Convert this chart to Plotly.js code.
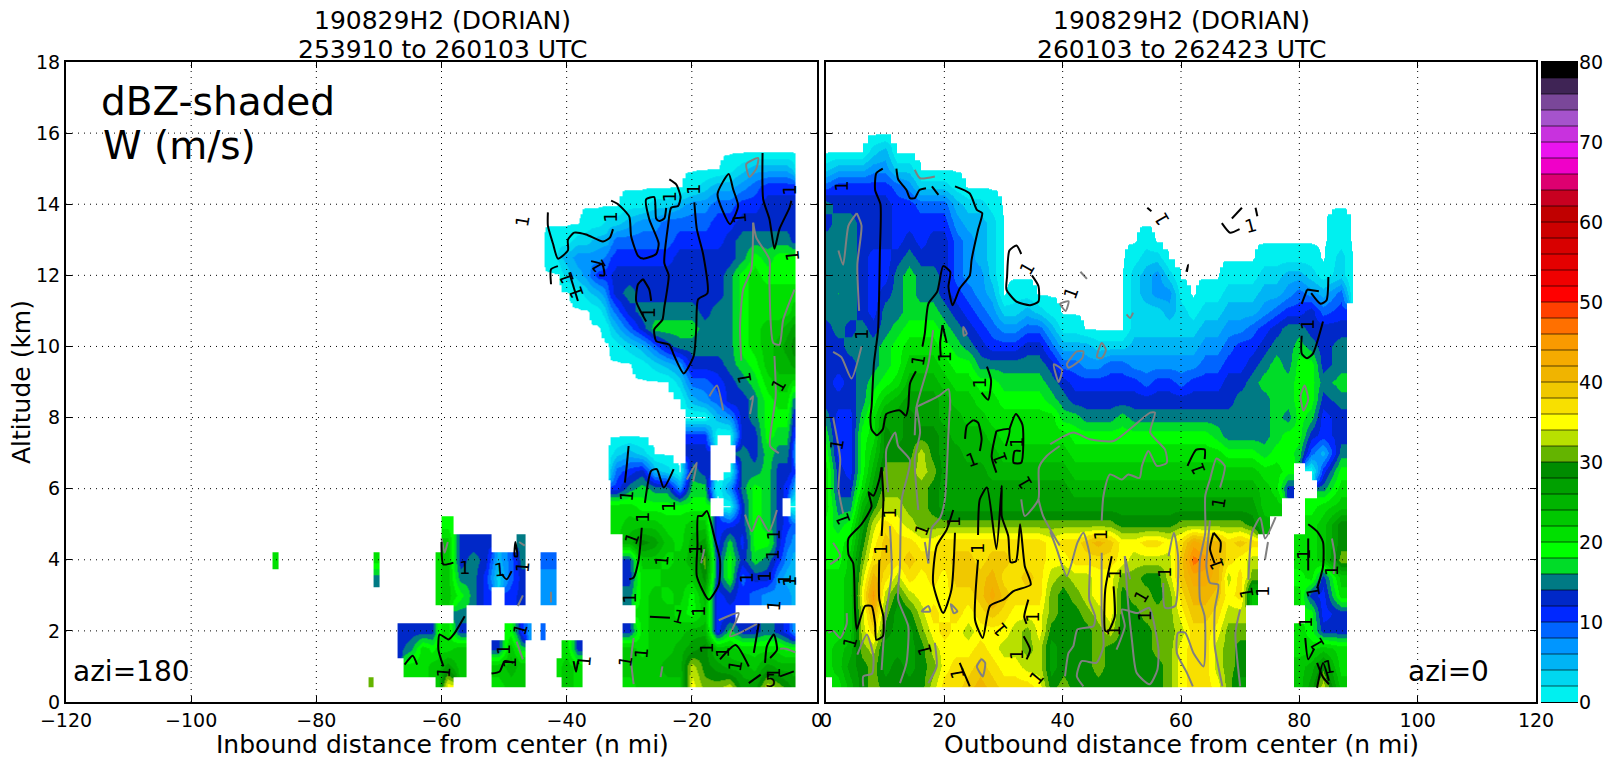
<!DOCTYPE html>
<html><head><meta charset="utf-8"><script src="https://cdn.plot.ly/plotly-3.0.1.min.js"></script>
<style>html,body{margin:0;padding:0;background:#fff}</style></head><body><div id="g" style="width:1615px;height:762px"></div>
<script>
const o = null;
// altitude rows of every column, km
const altitudes = [.45,1,1.5,2,2.5,3,3.5,4,4.5,5,5.5,6,6.5,7,7.5,8,8.5,9,9.5,10,10.5,11,11.5,12,12.5,13,13.5,14,14.5,15,15.5,16];
const bandColors = ['#00f0f0','#00d7f0','#00b4f5','#0096ff','#0064ff','#0028ff','#0028c8','#007a84','#00dc28','#00ff00','#00e000','#00c800','#00b400','#00a000','#008c00','#64b400','#b8e000','#ffff00','#f8e000','#f0c800','#f0b400','#f5ab00','#fa9a00','#ff7000','#ff4000','#ff0000','#f00000','#e40000','#d80000','#cc0000','#c00000','#c80020','#dd0070','#f000c8','#ea14ef','#c832de','#a653cc','#7a4799','#3f2455','#000000'];
const xTicksLeft = [-120,-100,-80,-60,-40,-20,0];
const xTicksRight = [0,20,40,60,80,100,120];
const yTicks = [0,2,4,6,8,10,12,14,16,18];
const barTicks = [0,10,20,30,40,50,60,70,80];

// dBZ, left panel (inbound): cell edges in distance, one list per cell, low altitude first
const leftEdges = [-87,-86,-71.6,-70.9,-69.9,-67,-66,-64,-62,-61,-60,-58,-56,-54,-52,-50,-48,-46.6,-45.6,-44.1,-43.3,-41.6,-40.8,-39,-37.5,-36,-34,-33,-31,-29,-27,-25,-23,-21,-19,-17,-15,-13,-11,-9,-7,-5.5,-4.25,-3.5,-3.4];
const leftDbz = [
[o,o,o,o,o,o,o,21],
[],
[31],
[o,o,o,o,o,o,15,21],
[],
[o,o,13,13],
[o,21,15,13],
[o,21,21,13],
[o,23,19,13],
[23,23,21,19,o,21,21,21],
[35,27,21,21,o,23,23,23,23,19],
[o,23,23,13,15,19,15,13,13],
[o,o,o,o,o,15,15,15,13],
[o,o,o,o,o,11,11,13,13],
[21,23,13,o,o,o,3,5],
[23,25,23,19,o,11,9,9],
[23,23,17,11,o,13,13,15,15],
[o,o,o,7],
[],
[o,o,o,9,o,7,7,9],
[o,o,o,o,o,7,7,9,o,o,o,o,o,o,o,o,o,o,o,o,o,o,o,o,1,1],
[o,21,o,o,o,o,o,o,o,o,o,o,o,o,o,o,o,o,o,o,o,o,o,o,3,1],
[23,23,21,o,o,o,o,o,o,o,o,o,o,o,o,o,o,o,o,o,o,o,o,3,5,1],
[21,21,13,o,o,o,o,o,o,o,o,o,o,o,o,o,o,o,o,o,o,o,1,5,7,3],
[o,o,o,o,o,o,o,o,o,o,o,o,o,o,o,o,o,o,o,o,o,o,3,7,7,3,1],
[o,o,o,o,o,o,o,o,o,o,o,o,o,o,o,o,o,o,o,o,o,1,5,11,7,5,1],
[o,o,o,o,o,o,o,o,o,o,o,o,o,o,o,o,o,o,o,o,1,5,9,11,9,5,3],
[o,o,o,o,o,o,o,o,o,21,21,11,9,3,o,o,o,o,o,1,5,9,13,13,11,9,3],
[21,23,23,13,o,15,13,13,25,23,21,15,11,5,o,o,o,o,o,3,9,13,15,13,11,9,5,1],
[23,23,21,21,21,21,21,23,29,23,19,17,13,3,o,o,o,o,1,5,13,15,13,13,11,9,7,1],
[23,23,23,23,23,23,21,23,27,23,19,15,5,o,o,o,o,o,3,9,17,15,13,13,11,9,7,3],
[23,25,23,23,23,21,23,21,23,21,19,15,3,o,o,o,o,o,5,13,17,15,13,13,11,9,9,3],
[23,25,25,23,21,23,23,23,21,21,19,7,o,o,o,o,o,3,7,15,17,15,13,13,13,11,9,5],
[35,33,27,25,19,19,23,25,25,23,19,17,15,13,11,o,5,9,13,15,17,15,13,13,13,11,9,7,1],
[31,29,29,25,23,25,29,31,27,23,19,17,13,13,11,o,7,9,13,15,15,13,13,13,13,11,9,7,3],
[31,27,23,11,11,11,13,13,11,11,o,o,o,o,o,5,9,11,13,15,15,15,13,13,13,11,11,9,5],
[33,25,23,17,11,13,19,19,17,11,o,7,o,o,o,7,13,13,15,15,15,15,15,15,13,13,11,9,5,1],
[27,25,21,13,o,11,9,13,11,13,13,15,15,15,13,13,13,15,17,19,19,19,19,19,15,15,13,11,7,3],
[27,23,21,13,o,9,13,17,19,19,19,19,15,13,13,15,15,17,19,21,21,21,21,21,19,15,13,11,9,5],
[33,27,21,15,o,7,13,15,19,17,17,17,17,17,19,19,19,21,23,23,23,21,21,19,17,15,13,13,11,5],
[31,25,21,13,o,7,7,11,13,13,13,13,13,15,17,19,21,23,25,25,23,21,21,19,19,15,13,13,11,5],
[29,25,19,11,o,7,5,7,9,11,o,11,13,15,17,19,21,23,25,27,25,21,21,19,19,15,13,13,11,5],
[27,25,19,7,o,5,5,5,7,9,o,7,11,9,11,13,15,21,27,29,27,23,21,19,19,13,13,13,11,3],
[]
];

// dBZ, right panel (outbound)
const rightDist = [0,2,4,6,8,10,12,14,16,18,20,22,24,26,28,30,32,34,36,38,40,42,44,46,48,50,52,54,56,58,60,62,64,66,68,70,72,74,76,78,80,82,84,87,89];
const rightDbz = [
[o,21,21,21,21,21,21,19,19,19,21,21,21,19,17,15,13,13,13,13,13,15,15,15,15,15,13,15,9,3],
[21,23,23,21,21,21,21,19,19,17,15,13,13,11,11,11,13,11,13,13,15,15,16,15,15,15,15,13,11,5],
[25,27,25,23,23,23,23,23,21,19,15,13,11,11,11,11,13,13,13,15,13,15,15,15,15,15,15,13,11,5],
[29,29,31,33,33,35,33,31,29,27,25,21,19,19,19,17,15,15,15,15,15,13,13,13,13,13,13,13,11,5],
[31,31,33,37,41,45,41,37,35,33,29,27,25,23,21,21,19,17,15,15,13,11,11,11,11,13,13,13,11,7,3],
[29,27,27,29,31,33,37,39,39,37,33,31,31,29,29,27,23,19,17,17,15,15,13,11,11,13,13,13,11,7,5],
[29,29,27,27,27,29,33,37,37,35,33,31,31,29,27,27,25,21,19,19,17,15,15,15,13,11,11,11,9,3],
[29,27,27,27,29,33,37,39,37,33,31,31,31,29,29,29,27,25,23,21,19,17,17,17,15,13,11,11,7,3],
[29,29,29,31,33,35,35,37,35,31,31,31,33,33,29,27,27,25,23,21,19,17,15,15,13,11,11,9,3],
[33,31,33,35,37,35,37,37,35,31,29,29,31,29,29,27,27,25,23,21,19,17,15,15,13,13,11,9,3],
[37,35,35,37,35,35,35,37,37,31,27,27,27,27,27,25,25,23,21,19,17,15,13,13,13,13,11,9,3],
[37,37,35,35,37,37,39,39,37,31,27,27,27,27,25,25,23,21,19,17,15,13,11,9,9,9,7,5,1],
[39,37,35,33,35,37,39,39,37,31,27,27,27,25,25,23,23,21,19,15,13,11,9,7,7,7,5,3],
[41,39,37,35,37,39,39,37,37,31,27,27,27,25,25,23,21,19,15,13,11,9,7,7,5,5,5,3],
[39,37,35,35,39,43,41,39,37,31,27,27,25,25,23,21,21,19,15,11,9,7,5,3,3,3,3,1],
[37,35,33,35,37,39,37,39,37,31,27,27,25,23,21,21,19,17,15,11,7,3],
[37,35,33,33,35,37,37,37,37,31,27,27,25,23,21,21,19,17,15,11,7,3,1],
[37,33,31,31,35,37,39,37,37,31,27,27,25,23,21,21,19,17,15,13,9,5,1],
[35,33,33,35,35,37,37,37,37,31,27,27,25,23,21,21,19,17,15,13,9,3],
[29,27,27,29,31,31,33,35,35,31,27,27,25,23,21,21,17,15,13,9,5,1],
[31,29,29,29,29,29,31,35,37,31,27,27,25,23,21,17,15,13,9,5,1],
[29,29,29,29,29,31,33,37,37,31,27,25,23,21,19,17,13,11,9,5,1],
[29,29,29,29,31,33,33,37,39,31,27,25,23,21,19,15,13,11,7,5],
[29,31,31,31,33,35,35,37,41,31,27,25,23,21,19,15,13,11,7,3],
[29,29,29,33,35,35,35,37,39,31,27,25,23,21,19,15,13,11,9,3],
[29,29,29,29,29,29,31,35,35,29,27,25,23,21,19,17,13,11,9,3],
[29,29,29,29,29,31,31,33,35,29,27,25,23,21,19,15,13,11,7,5,3,3,3,3,1],
[29,29,29,29,31,31,29,33,37,29,27,25,23,21,19,15,13,9,7,5,3,3,5,5,3,1],
[29,29,31,31,31,29,29,33,37,29,27,25,23,21,19,15,13,11,7,5,3,3,7,7,3],
[31,31,31,31,31,31,33,33,35,29,27,25,23,21,19,15,13,11,7,5,3,5,7,3],
[35,35,35,33,35,37,39,39,37,31,27,25,23,21,19,15,13,9,7,5,3,3,1],
[37,37,37,37,39,41,43,47,43,31,27,25,23,21,19,15,13,11,7,5,3,1],
[37,37,37,37,39,41,43,45,41,31,27,25,23,21,19,15,13,11,9,7,5,3,1],
[35,33,33,35,37,39,41,41,41,31,27,25,23,21,17,15,13,11,9,7,5,3,1],
[31,31,31,31,33,35,33,37,37,31,27,25,23,19,15,15,13,13,11,9,7,5,3,1],
[27,29,29,31,33,37,37,35,39,31,27,25,23,19,15,15,15,13,11,11,7,5,3,1],
[o,o,o,o,o,23,31,33,37,29,27,25,23,19,15,15,15,15,13,11,9,5,3,1],
[o,o,o,o,o,o,o,o,o,25,23,23,21,17,15,15,15,17,15,13,11,7,5,3,1],
[o,o,o,o,o,o,o,o,o,o,23,21,21,19,17,17,17,17,17,15,13,9,5,3,1],
[o,o,o,o,o,o,o,o,o,o,o,13,19,19,19,15,17,17,15,15,15,11,7,5,1],
[23,23,21,21,o,21,19,21,21,o,o,o,o,17,19,19,19,19,19,17,15,11,9,5,1],
[27,25,21,19,19,13,21,21,21,21,19,o,o,9,13,17,19,19,19,15,13,13,7,3,1],
[33,29,23,13,11,11,13,23,23,23,21,15,11,5,11,11,13,15,13,13,13,9,5,1],
[23,21,21,13,13,21,23,31,29,29,23,21,19,15,13,13,15,17,15,15,13,11,9,3,3,1,1],
[]
];

// W contours, [distance, altitude, distance, altitude, ...]
const leftBlack = [
[-43,13.77,-43,13.4,-42.2,12.9,-41.4,12.47,-39.8,12.7,-39.8,13,-38.8,13.2,-36.9,13.15,-34.2,12.95,-33.1,13.06,-32.6,13.3],
[-32.9,14.1,-31.8,14,-30,13.65,-29.7,13.1,-28.6,12.55,-27.8,12.47,-25.7,12.6,-25.3,12.9,-26.8,13.58,-27.3,14.14,-26,14.2,-25.7,13.6,-25.2,13.53,-24.4,13.6,-24.1,13.9],
[-23.6,14.7,-22.5,14.56,-21.8,14.2,-22.2,13.95,-23.3,13.9,-23.8,13.4,-24.4,12.35,-23.7,12,-24.4,11.1,-24.7,10.75,-26,10.48,-25.7,10.15,-23.6,10.05,-22.8,9.73,-21.3,9.24,-19.7,9.73,-19.3,10.48,-19,11.32,-17.5,11.5,-18.2,12.6,-19.2,13.3,-19.6,14.05],
[-14.1,14.85,-15.9,14.28,-13.9,13.44,-12.6,13.95,-13.4,14.42,-14.1,14.85],
[-8.7,15.44,-8.6,14.14,-7.6,13.58,-6.8,12.75,-6,13.3,-4.4,13.9,-4.1,14.1],
[-27.8,11.9,-28.6,11.75,-28.9,11.28,-27.3,10.7],[-26.5,11.28,-26.8,11.6,-27.8,11.9],
[-41.4,12.26,-42.5,12.17,-42.5,11.75],[-39.6,12.08,-38.2,11.28],[-36.1,12.4,-34.3,12.3,-34,12,-34.8,12],
[-30.1,7.2,-30.4,6.64,-30.7,6.17],[-27.5,5.6,-26.5,6.5,-25.6,6.55,-24.5,6.03,-22.9,6.55],[-28,4.9,-28.5,4,-29.3,3.5,-30,3.45],
[-18.4,5.23,-19,5.23,-19.1,4.4,-19.2,3.54,-17.3,2.88,-15.7,3.3,-15.5,4,-16.3,4.57,-17.6,5.37,-18.4,5.23],
[-60,4.5,-59.7,3.87,-58.1,3.92],[-26.7,2.4,-23.5,2.37],
[-56.3,2.41,-57.9,1.94,-58.9,1.76,-60.3,1.9,-60.5,1.47,-59.7,1],[-65.9,1.05,-64.6,1.3,-63.9,1.05],
[-10.1,1.38,-9.3,2.2],[-15.5,1.2,-13,1.6,-10.9,1],[-8.3,1.1,-8,1.57,-6.9,1.9,-6.4,1.47,-7.5,1.24],[-5.9,.72,-3.7,.86],[-10.9,.53,-9,.77],
[-52,.8,-50.7,.86,-49.9,1.15,-48.5,1.1],[-50.4,3.6,-49.6,3.45,-48.8,3.68],[-48.2,4.5,-47.9,4.1,-48.3,4.1,-48.2,4.5],[-38.9,1.15,-38.5,.85,-38.2,1.15]
];
const leftGray = [
[-10.2,13.48,-10.5,12.17,-11.8,11.6,-12.3,10.57,-12.1,9.6],[-10.2,13.48,-9.7,13.06,-7.6,12.45,-7.6,11.8,-7,10.1,-6,10.05,-5.4,10.75,-3.6,11.6],
[-11.3,15.13,-10.8,14.77,-9.7,15,-9.4,15.3,-11.3,15.13],[-6.8,9.73,-6.6,8.6,-7.5,7.2,-6.1,7],[-10.7,8.1,-10.2,8.6,-10.7,8.5],[-17.2,8.6,-16,8.9,-15,8.2],
[-20.8,6.26,-19.2,6.73,-19.8,6.2],[-11.5,5.27,-10.4,4.8,-9.3,5.23,-7.7,4.8,-6.4,5.4],[-29.3,1.8,-29.7,1.2,-29.3,.5],[-15.7,2.3,-12.5,2.5,-13.9,1.85,-9.6,2.2],
[-5.9,1.5,-5,1.5,-3.5,1.4],[-60,4.6,-59.5,4.2,-59,4.5],[-47.6,4.5,-46.7,4.4],[-47,3,-47.8,2.7],[-42.5,3.1,-42.5,2.8],[-48,1.7,-47,1.2],[-25,.7,-24.7,1],[-18,4.3,-18.5,3.9]
];
const rightBlack = [
[9.6,15,8.5,14.87,8.3,14.4,9.2,14,9.1,12.6,9,11.6,8.8,10.46,8.1,9.52,7.7,8.3,7.5,8,7.7,7.67,8.6,7.5,9.6,7.67,10.2,8.1,12.5,8.2,13.5,8.05,13.9,8.3,14.2,8.96,15.2,9.3],
[11.9,15,12.2,14.7,13.6,14.4,14.2,14.17,15,14.17,15.8,14.4,16.9,14.45],[17.9,14.5,19,14.26],
[21.8,14.5,24.3,14.3,25.5,13.84,26.4,13.75,25.7,13.28,24.6,12.43,24.3,12,22.6,11.63,21.4,11.16,20.7,11.68,21,12.1,19.8,12.26,18.8,11.54,17.3,11.2,16.7,10.37,16.3,10],
[19.7,10.6,19.3,10.1,19.4,9.7],[19.7,10.6,20.4,10.1],
[33,12.6,32.2,12.84,31,12.7,30.6,11.96,30.5,11.6,32.2,11.26,34.5,11.16,35.9,11.26,35.9,11.7,34.8,12],
[27.2,9.43,27.9,9.05,27.4,8.5,26.3,8.7],
[9.4,6.6,9,6.25,8,5.8,7.2,5.9,7.7,5.5,6,5,3.8,4.6,3.8,4.15,4.6,3.9,4.9,2.6,5.2,2.05,6.6,2.7,7.7,2.7,8.3,2.2,8.5,1.75,9.6,1.85,9.7,2.4,9,2.9,9,4],[9.4,6.6,9.7,5.7,9.4,4.67],
[24.9,7.93,23.8,7.77,23.5,7.4],[24.9,7.93,25.7,7.86,26.3,7.4,26,7.06],
[28.8,7.62,31,7.67,30.4,7.2],[28.8,7.62,28,6.9,28.8,6.45],[31,7.67,32.1,8.1,33.2,7.8,33,6.73,31.7,6.73,31.9,7.06,32.9,7.06],
[21.5,5.4,20.4,4.85,18.7,4.38,18.1,3.35,19.8,2.5,21.2,3.16,21.8,4.76],
[25.7,4.7,26,5.7,27.2,6.03,28.8,4.3,29.7,6.08,29.7,5.23,30.8,4.67,31.2,3.93,32.1,3.96,32.8,5,33.6,3.82,34.6,3.3,31.7,3.12,30,2.88,27.7,2.7,26.5,1.8,25.2,2.3,25.7,4],
[34.2,2.88,33.5,2.4,33.9,2.2],[33.4,1.85,34.5,1.47,33.9,1.2],[22.6,1.1,24.3,.44],
[61.1,6.64,62.6,7.1,64,7.1,64,6.83],[65.5,4.76,64.9,4.3,65.7,3.9],[65.5,4.76,66.7,4.5,66.6,4.2],
[48.3,4.1,47.2,3.16,47.2,2,47.7,1.99,48.8,2.4,48.6,3.25],
[81.3,11.6,80.4,11.2],[81.3,11.6,83.3,11.55],[80.4,10.3,80.4,9.8,81.3,9.67,82.3,9.8,84,10.7],[84.9,11.95,84.6,11.3,83.6,11.2,82,11.5],
[66.9,13.47,68.3,13.2,69.9,13.3],[68.6,13.6,70.3,13.9],[72.6,13.9,72.9,13.66],[54.3,13.9,55,13.8],[60.9,12.1,61.2,12.3,61,12.1],
[81.5,5,83,4.8,84,4.5,84,3.8,83,3.2],[81.5,3.7,81.5,4.6],[81,1.8,81.5,1.2,82.5,1.5],[83,.4,84,1.1,85,.6],[83,1.1,84,.7,85,.5]
];
const rightGray = [
[5.2,13.75,3.8,13.4,2.9,12.3,2.1,12.7],[5.2,13.75,6,13.4,5.3,12.3,5.6,11],[1.2,9.85,2.6,9.7,4.3,9.1,6,10],
[18.1,10.46,17.3,9.5,15.3,8.3,15,7.5],[15.3,8.3,19,8.6,20.7,8.8,21,8.2],[15,14.97,15.9,14.73,18.4,14.78],[23.2,10.55,23.3,10.3,23.8,10.36,23.2,10.55],
[38.5,9.5,39.9,9.34,39.3,9,38.5,9.5],[40.7,9.5,42.4,9.86,43.5,9.86,43.3,9.67,41,9.4,40.7,9.5],[45.8,9.7,46.6,10.1,47.3,9.9,46.6,9.67,45.8,9.7],[39.6,11.2,41,11.27,40.5,11,39.6,11.2],
[1.2,8,2.4,6.83,2.1,6,2.9,5.3],[1.2,4.48,2.4,4.1,.7,3.87],[.4,1.94,1.2,2,2.4,1.8,3.5,2.2,3.5,2.5],[5.3,1.33,6.9,1.9,8,1.3,7.8,.8,6.3,.72,6.3,.44],
[10.5,5.9,10.2,7.1,11.7,7.58,12.2,7.2,14.2,6.8,12.8,5.7,12.5,3.82,12.2,2.88,13.9,2.13,13.6,1.1,12.5,.53],[10.8,4.95,11.1,3.63,10,2.3,9.4,.9],
[15.3,8.3,15.9,7.58,15,6.83,15.6,5.4],[21,8.5,20.7,7.58,20.1,5.7,19.3,5.18,17.9,4.9,17.3,3.9],[16.7,4.5,17.3,3.9],[18.4,1.66,18.7,1,17.3,.53],
[26.3,1.2,25.5,1,26.5,.72,26.9,1.1,26.3,1.2],[39.5,7.2,37.3,6.92,36,6.6,35.9,5.7,33.6,5.23,33,5.7],[35.9,5.7,36.7,5.23,39.5,4.4],
[16.2,2.55,17.3,2.7,17.6,2.55,16.2,2.55],[21.1,2.75,22.2,2.55,21.6,2.5,21.1,2.75],
[37.9,7.25,41.8,7.58,44.6,7.39,48.6,7.34,54.8,8.14,55.6,8.14,54.8,7.58,57.3,7.1,57.6,6.73,55.9,6.64,54.5,7.06,53.4,6.64,53,6.3,51.1,6.4,50,6.26,48,6.4,46.9,5.8,46.6,5.1],
[66.6,6.03,67.4,6.64,66,6.85,64.9,6.26,64.1,5.8,64.1,4.76,63.2,4,63.2,2.88,64,2.4,63.8,1,62.1,1.38,60.7,1.95,59.5,1.95,59.3,1.38,61,.82,62,.44],
[64.9,5.1,64.3,3.8,64.9,3.35,66.3,3.3,65.7,2.6,65.7,1.57,67,.44],[71.4,3.44,72,4.76,73.4,5.18,74.2,4.6,76,5.2],[70,2.6,69.2,1.94,70,.44],
[37.9,4.8,39,4.3,40.7,3.54,42.5,4.48,43.5,4.76,44.6,4.1,44.5,2.88,45.5,2.4,45.2,2.13,42.5,2.04,41.8,1.57,41,1.38,40.4,.72],
[46.6,4.2,46.6,2.4,46.9,1.57,45.7,1.1,43.2,1.15,42.4,.72,43.5,.44],[50.5,4.1,51.4,3.45],
[50.5,4.1,51.1,2.7,51.7,1.75,52.5,.82,54.7,.5,56,.9,56.2,1.47,55.2,2.4,54.6,2.65,52.6,2.5,50,2.6,50.5,2.13,49.1,1.47],
[57.9,4.1,58.8,4.76,59.5,4.1,59,2.7,57.3,2.65,57,3.35],[43,12.1,44.1,11.9],[50.8,10.9,51.4,10.8,51.9,10.95],[80.7,8.2,80.2,8.6,80.9,8.9,81.5,8.5,80.7,8.2],[74.7,4.5,74.2,4],[85.5,4.6,86,4.1,85.8,3.6]
];

// contour labels, [distance, altitude, rotation]
const leftLabels = [
[-47,13.53,-80],[-32.9,13.62,-90],[-40,11.93,-110],[-38.5,11.5,-110],[-35,12.26,-120],[-23.6,14.2,-90],[-19.8,14.4,-90],[-12.4,13.6,-95],[-4.3,14.38,-90],[-3.9,12.55,-95],[-27,10.93,-90],[-11.6,9.1,-100],[-6.2,8.9,-60],
[-56.3,3.78,0],[-50.7,3.73,-5],[-47,3.8,-85],[-30.4,5.8,-85],[-23.7,5.5,-90],[-28,5.2,-90],[-29.6,4.6,-70],[-24.8,3.98,-85],[-19.5,4.3,-90],[-29.9,2.93,-90],[-22.1,2.4,15],[-18.9,2.55,-90],
[-47.5,2.05,-75],[-50.1,1.47,-90],[-49,1.1,-90],[-37.3,1.15,-85],[-28,1.38,-85],[-30.7,1.15,-80],[-17.6,1.52,-90],[-15,1.38,-90],[-13.1,1,-80],[-59.7,.83,-85],
[-7,4.69,-90],[-7.2,4.15,-90],[-11.2,3.5,-90],[-8.5,3.54,-90],[-5.3,3.45,-90],[-4.5,3.4,-90],[-7,2.7,-85],[-7,.8,-90]
];
const rightLabels = [
[2.6,14.5,-90],[5.9,10.35,-90],[15.6,9.6,-80],[20,9.7,-90],[26,8.98,-90],[33.9,12.2,-60],[1.9,7.23,-80],[2.9,5.13,-110],[4.1,1.66,-75],[10.7,5.3,-90],[9.1,4.3,-90],[16.2,4.85,-70],[21.5,5.06,-90],[25.5,4.33,-90],
[24.6,6.83,-20],[29.4,6.87,-110],[32.2,7.3,-90],[33.6,6.17,-120],[16.7,1.47,-105],[29.4,2.04,-130],[35,2.37,-90],[32.2,1.33,-90],[22.2,.8,-100],[35.6,.68,-50],
[46.4,4.7,-90],[48.6,3.6,-90],[57.3,3.63,-90],[53.2,2.98,-60],[53.9,2.43,-90],[48.6,2,-90],[62.9,6.54,-110],[66.3,5.59,-80],[66,3.87,-110],[71.1,3.07,-100],[73.9,3.1,-90],
[80.7,4.15,-90],[81,2.23,-90],[82.4,3.1,-100],[83,1.6,-120],[41.3,11.5,-70],[56.8,13.57,-120],[71.7,13.4,-15],[81.3,10.6,-90],[85.5,3.7,-90],[85,1,-10]
];

const W=1615,H=762, T=62,B=702;
const dom=(a,b)=>[a/W,b/W];
const ZMIN=-4, ZSPAN=84, NO_ECHO=-0.2;
const colorscale=[[0,'#ffffff'],[4/ZSPAN,'#ffffff']];
bandColors.forEach((c,i)=>{colorscale.push([(4+i*2)/ZSPAN,c]);colorscale.push([(4+(i+1)*2)/ZSPAN,c]);});
const yNodes=[.41].concat(altitudes);
// Columns padded to full height, then the weak anvil fringe is allowed to fade to "no echo" next to its empty cells
function grid(cols){
  const z=cols.map(c=>altitudes.map((_,i)=>c[i]===undefined?null:c[i]));
  const weak=(j,i)=>z[j]&&z[j][i]!==undefined&&z[j][i]!==null&&z[j][i]<=9;
  const out=z.map((c,j)=>c.map((v,i)=>{
    if(v===null&&i>=10&&(weak(j,i-1)||weak(j,i+1)||weak(j-1,i)||weak(j+1,i))) return NO_ECHO;
    return v;
  }));
  return out.map(c=>[null].concat(c));
}
const heat=(x,z,xa,ya)=>({type:'heatmap',x:x,y:yNodes,z:grid(z),transpose:true,zsmooth:'best',zmin:ZMIN,zmax:80,colorscale,showscale:false,hoverinfo:'skip',xaxis:xa,yaxis:ya});
function lines(paths,color,xa,ya){
  const xs=[],ys=[];
  paths.forEach(p=>{for(let i=0;i<p.length;i+=2){xs.push(p[i]);ys.push(p[i+1]);}xs.push(null);ys.push(null);});
  return {type:'scatter',mode:'lines',x:xs,y:ys,line:{color,width:2,shape:'spline',smoothing:.6},hoverinfo:'skip',xaxis:xa,yaxis:ya,showlegend:false};
}
// colour bar from the band list
const barLevels=bandColors.map((c,i)=>i*2+1);
const barTrace={type:'heatmap',x:[0,1],y:barLevels,z:barLevels.map(v=>[v,v]),zmin:ZMIN,zmax:80,colorscale,showscale:false,hoverinfo:'skip',xaxis:'x3',yaxis:'y3'};

const data=[heat(leftEdges,leftDbz,'x','y'),heat(rightDist,rightDbz,'x2','y2'),
 lines(leftGray,'#808080','x','y'),lines(rightGray,'#808080','x2','y2'),
 lines(leftBlack,'#000','x','y'),lines(rightBlack,'#000','x2','y2'),barTrace];

const tickFont={family:'DejaVu Sans',size:19,color:'#000'};
const axisBase={showgrid:false,zeroline:false,ticks:'inside',ticklen:6,tickwidth:1,tickcolor:'#000',showline:true,linecolor:'#000',linewidth:2,mirror:'ticks',tickfont:tickFont};
const dotted={color:'#000',width:1,dash:'1px,5px'};
const shapes=[];
[['x','y',xTicksLeft.slice(1,-1),[-120,0]],['x2','y2',xTicksRight.slice(1,-1),[0,120]]].forEach(([xa,ya,ticks,r])=>{
  ticks.forEach(t=>shapes.push({type:'line',xref:xa,yref:ya,x0:t,x1:t,y0:0,y1:18,line:dotted,layer:'above'}));
  yTicks.slice(1,-1).forEach(t=>shapes.push({type:'line',xref:xa,yref:ya,x0:r[0],x1:r[1],y0:t,y1:t,line:dotted,layer:'above'}));
});
bandColors.forEach((c,i)=>{ if(i>0) shapes.push({type:'line',xref:'x3',yref:'y3',x0:-.5,x1:1.5,y0:i*2,y1:i*2,line:{color:'rgba(0,0,0,.65)',width:1},layer:'above'});});

const ann=[];
const txt=(text,x,y,size,extra)=>Object.assign({text,x,y,showarrow:false,font:{family:'DejaVu Sans',size,color:'#000'}},extra);
const paper={xref:'paper',yref:'paper',xanchor:'center',yanchor:'middle'};
const left=Object.assign({},paper,{xanchor:'left'});
ann.push(txt('190829H2 (DORIAN)',443/W,1-21/H,25,paper));
ann.push(txt('253910 to 260103 UTC',443/W,1-49/H,25,paper));
ann.push(txt('190829H2 (DORIAN)',1181/W,1-21/H,25,paper));
ann.push(txt('260103 to 262423 UTC',1181/W,1-49/H,25,paper));
ann.push(txt('Inbound distance from center (n mi)',443/W,1-744/H,25,paper));
ann.push(txt('Outbound distance from center (n mi)',1181/W,1-744/H,25,paper));
ann.push(txt('Altitude (km)',21/W,1-382/H,25,Object.assign({},paper,{textangle:-90})));
ann.push(txt('dBZ-shaded',99/W,1-101/H,39,left));
ann.push(txt('W (m/s)',101/W,1-145/H,39,left));
ann.push(txt('azi=180',71/W,1-671/H,28,left));
ann.push(txt('azi=0',1406/W,1-671/H,28,left));
const lab=(list,xa,ya)=>list.forEach(l=>ann.push({text:'1',x:l[0],y:l[1],xref:xa,yref:ya,showarrow:false,textangle:l[2],font:{family:'DejaVu Sans',size:18,color:'#000'}}));
lab(leftLabels,'x','y');lab(rightLabels,'x2','y2');
ann.push({text:'5',x:-7.5,y:.6,xref:'x',yref:'y',showarrow:false,font:{family:'DejaVu Sans',size:18,color:'#000'}});

const layout={width:W,height:H,autosize:false,margin:{l:0,r:0,t:0,b:0},paper_bgcolor:'#fff',plot_bgcolor:'#fff',showlegend:false,
 xaxis:Object.assign({},axisBase,{domain:dom(66,817),range:[-120,0],tickvals:xTicksLeft,anchor:'y'}),
 xaxis2:Object.assign({},axisBase,{domain:dom(826,1536),range:[0,120],tickvals:xTicksRight,anchor:'y2'}),
 xaxis3:{domain:dom(1541,1578),range:[0,1],showticklabels:false,ticks:'',showgrid:false,zeroline:false,showline:true,linecolor:'#000',linewidth:1,mirror:true,anchor:'y3',fixedrange:true},
 yaxis:Object.assign({},axisBase,{domain:[(H-B)/H,(H-T)/H],range:[0,18],tickvals:yTicks,anchor:'x'}),
 yaxis2:Object.assign({},axisBase,{domain:[(H-B)/H,(H-T)/H],range:[0,18],tickvals:yTicks,anchor:'x2',showticklabels:false}),
 yaxis3:{domain:[(H-B)/H,(H-T)/H],range:[0,80],tickvals:barTicks,side:'right',anchor:'x3',ticks:'',tickfont:tickFont,showgrid:false,zeroline:false,showline:false},
 shapes,annotations:ann};
Plotly.newPlot('g',data,layout,{staticPlot:true,displayModeBar:false});
</script></body></html>
